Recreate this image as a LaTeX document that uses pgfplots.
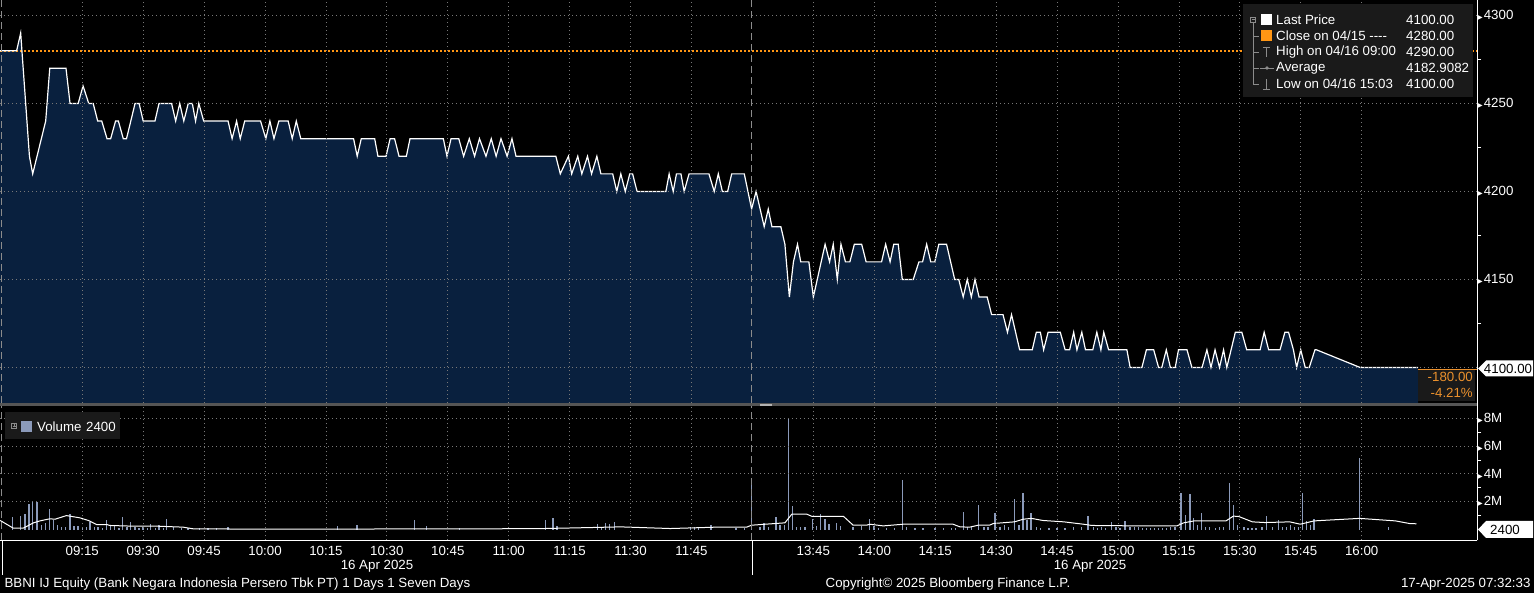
\documentclass[border=0pt]{standalone}
\usepackage{pgfplots}
\usepackage{pgfplotstable}
\pgfplotsset{compat=1.18}
\usepackage{fontspec}
\setmainfont{Liberation Sans}
\newfontfamily\djv{DejaVu Sans}

\definecolor{areanavy}{RGB}{9,32,62}
\definecolor{volblue}{RGB}{139,154,186}
\definecolor{closeorg}{RGB}{255,150,20}
\definecolor{txtorg}{RGB}{235,145,45}
\definecolor{gridgray}{RGB}{120,120,120}
\definecolor{boxgray}{RGB}{26,26,26}
\definecolor{sepgray}{RGB}{85,85,85}
\definecolor{icongray}{RGB}{140,140,140}

\newcommand\tri{{\djv\fontsize{6}{6}\selectfont ▶}\hspace{1pt}}
\newcommand\fnt{\fontsize{13.3}{15}\selectfont}

% price, minutes of trading since 09:00 (lunch break removed: 12:00 = 13:30 = 180)
\pgfplotstableread{
m p
-5.25 4280
-1.15 4280
-0.16 4290
2.0 4220
2.8 4210
6.0 4240
7.0 4270
11.0 4270
12.0 4250
14.0 4250
15.2 4260
16.6 4250
17.7 4250
18.8 4240
19.8 4240
21.1 4230
22.0 4230
23.2 4240
23.9 4240
25.1 4230
25.9 4230
28.0 4250
29.0 4250
30.0 4240
32.9 4240
33.9 4250
37.0 4250
38.0 4240
39.0 4250
40.0 4240
41.1 4250
42.1 4250
42.9 4240
43.7 4250
44.9 4240
50.9 4240
51.9 4230
53.0 4240
53.9 4230
55.0 4240
58.9 4240
60.2 4230
61.2 4240
62.2 4230
63.4 4240
65.7 4240
66.7 4230
67.7 4240
68.8 4230
81.8 4230
82.7 4220
83.7 4230
87.0 4230
87.8 4220
89.8 4220
90.8 4230
91.9 4230
93.0 4220
94.8 4220
95.7 4230
103.9 4230
104.8 4220
105.8 4230
107.7 4230
108.9 4220
110.3 4230
111.6 4220
112.8 4230
114.4 4220
115.7 4230
116.9 4220
118.1 4230
119.6 4220
120.8 4230
121.8 4220
131.6 4220
132.7 4210
134.7 4220
135.5 4210
137.0 4220
138.0 4210
139.4 4220
140.4 4210
141.7 4220
142.7 4210
145.6 4210
146.6 4200
147.6 4210
148.7 4200
149.8 4210
150.5 4210
151.6 4200
158.7 4200
159.5 4210
160.5 4200
161.3 4210
162.4 4210
163.2 4200
164.4 4210
169.3 4210
170.6 4200
171.6 4210
172.6 4200
173.9 4200
174.9 4210
178.0 4210
179.8 4190
180.9 4200
182.9 4180
183.9 4190
184.8 4180
187.0 4180
188.0 4170
189.1 4140
190.1 4160
191.1 4170
191.9 4160
193.9 4160
195.0 4140
197.9 4170
199.0 4160
199.9 4170
200.9 4150
201.8 4170
202.9 4160
204.0 4160
205.1 4170
206.9 4170
208.0 4160
211.8 4160
212.8 4170
213.9 4160
214.8 4170
215.9 4170
216.9 4150
219.6 4150
221.0 4160
221.9 4160
222.9 4170
223.9 4160
224.9 4160
225.9 4170
227.8 4170
229.8 4150
230.8 4150
231.9 4140
232.9 4150
233.9 4140
234.8 4150
235.8 4140
237.8 4140
238.9 4130
241.7 4130
242.8 4120
243.8 4130
245.8 4110
248.9 4110
249.9 4120
250.9 4120
251.7 4110
252.8 4120
255.8 4120
257.0 4110
258.1 4110
259.1 4120
259.9 4110
261.1 4120
262.0 4110
263.8 4110
264.8 4120
265.8 4110
266.5 4120
267.7 4110
272.2 4110
273.0 4100
275.9 4100
277.0 4110
278.8 4110
280.0 4100
280.8 4100
281.9 4110
282.9 4100
284.1 4100
284.9 4110
287.0 4110
288.2 4100
290.7 4100
291.9 4110
292.9 4100
293.9 4110
295.0 4100
296.0 4110
296.8 4100
298.9 4120
300.5 4120
301.7 4110
305.0 4110
306.0 4120
307.1 4110
309.9 4110
311.1 4120
312.0 4120
313.2 4110
314.0 4100
315.0 4110
316.1 4100
317.1 4100
318.5 4110
318.9 4110
329.6 4100
343.9 4100
}\pricetab

% volume per minute, millions
\pgfplotstableread{
m v
-2.1 0.93
-0.2 1.0
0.9 1.08
1.9 1.8
2.8 2.06
3.9 2.01
4.9 0.36
6.0 0.48
7.0 1.51
7.9 0.65
8.9 0.29
9.9 0.17
10.9 0.17
12.0 1.08
13.0 0.24
14.0 0.24
15.0 0.17
16.0 0.15
16.9 0.53
18.0 0.15
18.9 0.17
20.0 0.12
21.0 0.65
22.0 0.34
23.0 0.24
24.0 0.12
24.9 0.93
26.0 0.15
26.9 0.57
28.0 0.19
29.0 0.12
30.0 0.17
31.0 0.12
31.8 0.43
33.0 0.12
33.9 0.36
35.0 0.12
35.7 0.79
37.4 0.17
39.4 0.14
41.0 0.1
43.9 0.12
46.0 0.1
48.0 0.1
50.9 0.19
77.8 0.24
82.6 0.36
96.8 0.65
99.7 0.22
107.9 0.14
129.0 0.67
130.9 0.81
131.9 0.24
141.9 0.38
142.9 0.2
143.9 0.45
144.8 0.38
146.0 0.55
164.7 0.2
165.7 0.2
166.7 0.2
169.8 0.31
176.0 0.1
178.0 0.12
179.8 3.17
181.9 0.2
182.9 0.5
183.9 0.2
185.8 0.9
186.8 0.3
187.9 0.35
188.9 8.02
189.9 1.67
190.9 0.2
191.9 0.2
192.9 0.2
194.8 0.79
195.8 0.26
196.8 1.1
197.9 0.72
198.9 0.38
200.7 0.5
201.7 0.26
204.8 0.2
206.9 0.24
208.9 0.74
209.9 0.26
211.0 0.12
213.0 0.12
215.0 0.1
216.9 3.53
218.0 0.2
220.0 0.1
222.0 0.1
225.0 0.1
227.0 0.1
229.0 0.12
230.0 0.12
231.9 1.26
233.0 0.2
234.0 0.15
235.7 1.74
237.0 0.2
238.0 0.15
239.7 1.2
241.0 0.2
242.0 0.3
243.0 0.2
244.6 2.16
245.6 0.3
246.6 2.6
247.6 0.67
248.6 1.18
250.0 0.15
251.0 0.12
253.0 0.1
255.0 0.12
257.0 0.1
259.0 0.15
261.0 0.15
262.6 0.96
264.0 0.2
265.0 0.12
266.0 0.15
267.0 0.12
268.4 0.53
269.5 0.15
270.5 0.12
271.7 0.58
273.0 0.2
274.0 0.15
275.0 0.15
276.0 0.12
277.0 0.12
278.0 0.12
279.0 0.1
280.0 0.1
281.0 0.12
282.0 0.12
283.0 0.15
284.0 0.2
285.5 2.6
286.7 1.03
287.7 2.54
288.6 0.8
289.6 0.3
290.6 1.18
291.6 0.2
292.6 0.15
294.0 0.12
295.0 0.15
296.0 0.2
297.5 3.34
298.5 1.75
299.5 0.3
301.0 0.15
302.0 0.12
303.0 0.12
304.0 0.1
305.5 0.15
306.6 0.96
308.0 0.15
309.5 0.67
310.5 0.2
311.5 0.2
312.5 0.3
313.5 0.2
314.5 0.2
315.5 2.64
316.4 0.6
317.4 0.3
318.3 0.74
329.5 5.16
336.6 0.17
}\voltab

% volume moving average, millions
\pgfplotstableread{
m v
-5.2 0.65
-2.0 0.1
0.5 0.1
3.0 0.48
4.6 0.62
7.0 0.77
8.3 0.74
11.1 1.0
14.4 0.84
16.5 0.65
18.5 0.36
21.0 0.36
21.8 0.29
27.5 0.24
33.3 0.24
39.8 0.17
42.3 0.05
50.5 0.05
52.1 0.02
115.5 0.05
128.6 0.07
140.1 0.14
147.5 0.19
159.8 0.07
171.2 0.17
178.6 0.17
179.8 0.31
185.6 0.43
188.0 0.48
189.7 1.1
193.4 1.1
194.6 0.95
202.4 0.95
204.8 0.31
208.1 0.31
208.9 0.38
212.2 0.26
217.1 0.38
229.4 0.38
231.1 0.19
233.5 0.17
235.6 0.31
238.4 0.31
239.3 0.43
244.5 0.55
246.7 0.74
248.7 0.8
251.5 0.65
256.7 0.55
261.5 0.38
263.6 0.29
274.9 0.26
284.5 0.26
286.2 0.48
288.8 0.62
296.6 0.62
298.4 0.96
299.7 0.94
303.1 0.55
306.2 0.5
312.3 0.55
314.9 0.38
318.3 0.62
329.5 0.8
338.3 0.62
341.8 0.43
343.5 0.41
}\avgtab

\pgfplotsset{
  bbg/.style={
    scale only axis, width=1477pt,
    xmin=-5.25, xmax=358.4,
    axis on top,
    axis x line*=bottom, axis y line*=right,
    y axis line style={white, line width=1pt, -},
    xtick={15,30,45,60,75,90,105,120,135,150,165,195,210,225,240,255,270,285,300,315,330},
    xmajorgrids, ymajorgrids,
    major grid style={gridgray, line width=0.75pt, dash pattern=on 1.4pt off 2.6pt},
    major tick length=0pt, minor tick length=4pt, tick align=outside,
    tick style={white, line width=0.8pt},
    ticklabel style={white, font=\fnt},
    yticklabel style={anchor=west, inner sep=0pt, xshift=1pt},
    /pgf/number format/assume math mode=true,
    clip=true,
  }
}

\begin{document}
\begin{tikzpicture}[x=1pt,y=1pt]
\fill[black] (0,0) rectangle (1534,593);

% price panel
\begin{axis}[bbg, at={(0pt,190pt)}, anchor=south west, height=403pt,
  ymin=4079.8, ymax=4308.8,
  x axis line style={draw=none}, xticklabels={},
  ytick={4100,4150,4200,4250,4300},
  yticklabels={,{\tri 4150},{\tri 4200},{\tri 4250},{\tri 4300}},
  minor ytick={4125,4175,4225,4275}]
\addplot[draw=none, fill=areanavy] table[x=m, y=p] {\pricetab} \closedcycle;
\addplot[closeorg, line width=1.7pt, dash pattern=on 1.8pt off 2.2pt] coordinates {(-5.25,4280) (358.4,4280)};
\addplot[white, line width=1.2pt] table[x=m, y=p] {\pricetab};
\draw[icongray, line width=0.8pt, dash pattern=on 7pt off 4pt]
  ({axis cs:-4.8,4100}|-{rel axis cs:0,0}) -- ({axis cs:-4.8,4100}|-{rel axis cs:0,1});
\draw[icongray, line width=0.8pt, dash pattern=on 7pt off 4pt]
  ({axis cs:179.7,4100}|-{rel axis cs:0,0}) -- ({axis cs:179.7,4100}|-{rel axis cs:0,1});
\end{axis}

% volume panel
\begin{axis}[bbg, at={(0pt,52.5pt)}, anchor=south west, height=134.5pt,
  ymin=-0.79, ymax=8.88,
  x axis line style={white, line width=1pt, -},
  xticklabels={09:15,09:30,09:45,10:00,10:15,10:30,10:45,11:00,11:15,11:30,11:45,13:45,14:00,14:15,14:30,14:45,15:00,15:15,15:30,15:45,16:00},
  xticklabel style={anchor=base, yshift=-15pt},
  ytick={2,4,6,8},
  yticklabels={{\tri 2M},{\tri 4M},{\tri 6M},{\tri 8M}},
  minor ytick={1,3,5,7}]
\addplot[ycomb, volblue, line width=1.4pt] table[x=m, y=v] {\voltab};
\addplot[white, line width=1pt] table[x=m, y=v] {\avgtab};
\draw[icongray, line width=0.8pt, dash pattern=on 7pt off 4pt]
  ({axis cs:-4.8,0}|-{rel axis cs:0,0}) -- ({axis cs:-4.8,0}|-{rel axis cs:0,1});
\draw[icongray, line width=0.8pt, dash pattern=on 7pt off 4pt]
  ({axis cs:179.7,0}|-{rel axis cs:0,0}) -- ({axis cs:179.7,0}|-{rel axis cs:0,1});
\end{axis}

% panel separator
\fill[sepgray] (0,187) rectangle (1477,190);
\draw[white!70!black, line width=0.6pt] (760,189) -- (772,189) (760,187.5) -- (772,187.5);
\draw[white, line width=0.6pt] (1477,52.5) -- (1477,593);

% session marks under the axis
\draw[white, line width=0.8pt] (2,18) -- (2,52.5);
\draw[white, line width=0.8pt] (752,18) -- (752,52.5);

% date and footer
\node[white, font=\fnt] at (377,27) {16 Apr 2025};
\node[white, font=\fnt] at (1090,27) {16 Apr 2025};
\node[white, font=\fnt, anchor=west] at (1,9) {BBNI IJ Equity (Bank Negara Indonesia Persero Tbk PT) 1 Days 1 Seven Days};
\node[white, font=\fnt] at (948,9) {Copyright© 2025 Bloomberg Finance L.P.};
\node[white, font=\fnt, anchor=east] at (1534,9) {17-Apr-2025 07:32:33};

% price legend
\fill[boxgray] (1243,496) rectangle (1473,589);
\draw[icongray, line width=0.6pt] (1253,570) -- (1253,509);
\foreach \yy in {557,541,525,509} \draw[icongray, line width=0.6pt] (1253,\yy) -- (1259,\yy);
\draw[icongray, line width=0.6pt] (1250.5,571) rectangle (1255.5,576);
\draw[icongray, line width=0.5pt] (1251.5,573.5) -- (1254.5,573.5);
\fill[white] (1261,568) rectangle (1272,579);
\fill[closeorg] (1261,552) rectangle (1272,563);
\draw[icongray, line width=0.8pt] (1263,546) -- (1270,546) (1266.5,546) -- (1266.5,536);
\draw[icongray, line width=0.8pt] (1260,525) -- (1274,525);
\fill[icongray] (1267,525) circle (1.8);
\draw[icongray, line width=0.8pt] (1263,504) -- (1270,504) (1266.5,504) -- (1266.5,514);
\begin{scope}[every node/.style={white, font=\fnt, anchor=west, inner sep=0pt}]
\node at (1276,573) {Last Price};
\node at (1276,557) {Close on 04/15 -{}-{}-{}- };
\node at (1276,541) {High on 04/16 09:00};
\node at (1276,525) {Average};
\node at (1276,509) {Low on 04/16 15:03};
\node at (1406,573) {4100.00};
\node at (1406,557) {4280.00};
\node at (1406,541) {4290.00};
\node at (1406,525) {4182.9082};
\node at (1406,509) {4100.00};
\end{scope}

% volume legend
\fill[boxgray] (5,154) rectangle (120,181);
\draw[icongray, line width=0.6pt] (11.5,164.5) rectangle (16.5,169.5);
\draw[icongray, line width=0.5pt] (12.5,167) -- (15.5,167) (14,165.5) -- (14,168.5);
\fill[volblue] (21,161) rectangle (32,172);
\node[white, font=\fnt, anchor=west, inner sep=0pt] at (37,166.5) {Volume};
\node[white, font=\fnt, anchor=west, inner sep=0pt] at (86,166.5) {2400};

% last price and change boxes
\fill[boxgray] (1418,192) rectangle (1475,224);
\draw[txtorg, line width=0.8pt] (1418,224) -- (1477,224);
\node[txtorg, font=\fnt, anchor=east, inner sep=0pt] at (1473,216) {-180.00};
\node[txtorg, font=\fnt, anchor=east, inner sep=0pt] at (1473,200) {-4.21\%};
\fill[white] (1478,224.5) -- (1486,232.5) -- (1533,232.5) -- (1533,216.5) -- (1486,216.5) -- cycle;
\node[black, font=\fnt] at (1508,224.5) {4100.00};
\fill[white] (1478,63.5) -- (1486,72) -- (1533,72) -- (1533,55) -- (1486,55) -- cycle;
\node[black, font=\fnt, anchor=west, inner sep=0pt] at (1490,63.5) {2400};

\pgfresetboundingbox
\path (0,0) rectangle (1534,593);
\end{tikzpicture}
\end{document}
